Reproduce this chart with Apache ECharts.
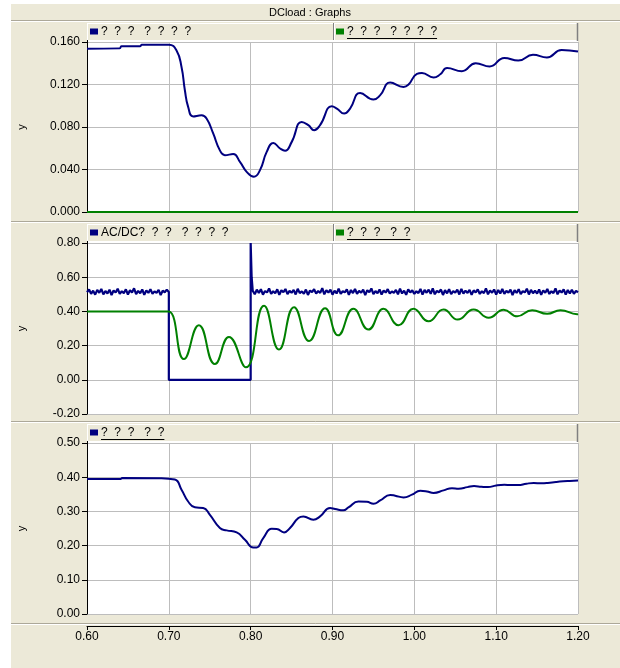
<!DOCTYPE html>
<html><head><meta charset="utf-8">
<script src="https://cdn.jsdelivr.net/npm/echarts@6/dist/echarts.min.js"></script>
<style>html,body{margin:0;padding:0;background:#fff}#c{width:620px;height:668px}</style>
</head><body><div id="c"></div>
<script>
// ---------- text ----------
const titleText = 'DCload : Graphs';
const p1Names = ['?  ?  ?   ?  ?  ?  ?', '?  ?  ?   ?  ?  ?  ?'];
const p2Names = ['AC/DC?  ?  ?   ?  ?  ?  ?', '?  ?  ?   ?  ?'];
const p3Names = ['?  ?  ?   ?  ?'];
const xTickValues = [0.6, 0.7, 0.8, 0.9, 1.0, 1.1, 1.2];

// ---------- panel 1 ----------
const p1BlueT = [0.600,0.640,0.642,0.665,0.667,0.700,0.7094,0.7155,0.7196,0.7236,0.7297,0.740,0.7461,0.7542,0.7624,0.7685,0.7787,0.7869,0.7951,0.804,0.8114,0.8196,0.8277,0.8359,0.842,0.8502,0.8624,0.8705,0.8775,0.8848,0.8991,0.9053,0.9142,0.9215,0.9338,0.950,0.9583,0.9705,0.9868,0.9929,1.0032,1.0093,1.0235,1.0317,1.040,1.058,1.075,1.092,1.110,1.127,1.145,1.162,1.180,1.200];
const p1BlueV = [0.1537,0.1540,0.1559,0.1560,0.1575,0.1575,0.152,0.1365,0.1146,0.0989,0.090,0.091,0.088,0.0739,0.058,0.0535,0.0545,0.0472,0.0378,0.0332,0.0394,0.0566,0.065,0.0598,0.0576,0.066,0.0848,0.0817,0.077,0.0817,0.0995,0.0974,0.0927,0.0974,0.112,0.1058,0.110,0.1218,0.1177,0.120,0.130,0.1308,0.1265,0.1296,0.1355,0.1325,0.140,0.137,0.145,0.1425,0.148,0.1455,0.1525,0.151];
const p1GreenT = [0.6, 1.2];
const p1GreenV = [0, 0];

// ---------- panel 2 ----------
const p2NoiseA = [0.512,0.528,0.503,0.521,0.498,0.526,0.509,0.531,0.500,0.519,0.505,0.527,0.496,0.522,0.510,0.533,0.502,0.518,0.507,0.529,0.499,0.524,0.511,0.535,0.501,0.520,0.506,0.528,0.497,0.523,0.508,0.530,0.503,0.517,0.509,0.526,0.495,0.521,0.512,0.527];
const p2SwitchT = [0.700,0.700,0.800,0.800,0.8012];
const p2SwitchV = [0.513,0.000,0.000,0.800,0.600];
const p2NoiseB = [0.521,0.500,0.527,0.508,0.530,0.498,0.519,0.511,0.534,0.502,
0.518,0.506,0.529,0.497,0.524,0.512,0.531,0.501,0.520,0.509,
0.526,0.499,0.532,0.507,0.517,0.503,0.528,0.496,0.522,0.513,
0.530,0.504,0.519,0.508,0.536,0.500,0.523,0.510,0.527,0.498,
0.521,0.505,0.533,0.502,0.518,0.511,0.529,0.497,0.525,0.507,
0.531,0.503,0.520,0.509,0.527,0.495,0.524,0.512,0.534,0.501,
0.519,0.506,0.528,0.499,0.522,0.510,0.530,0.504,0.517,0.508,
0.526,0.500,0.533,0.505,0.521,0.497,0.529,0.511,0.523,0.502,
0.518,0.507,0.531,0.498,0.525,0.509,0.527,0.503,0.535,0.500,
0.520,0.512,0.528,0.496,0.524,0.506,0.530,0.501,0.519,0.510,
0.527,0.499,0.532,0.504,0.521,0.508,0.526,0.497,0.523,0.511,
0.529,0.502,0.518,0.507,0.534,0.500,0.522,0.509,0.528,0.498,
0.525,0.505,0.531,0.503,0.520,0.510,0.527,0.496,0.524,0.508,
0.530,0.501,0.519,0.511,0.533,0.499,0.526,0.506,0.521,0.504,
0.528,0.497,0.523,0.509,0.531,0.502,0.518,0.507,0.535,0.500,
0.522,0.510,0.529,0.498,0.525,0.505,0.527,0.503,0.520,0.512];
const p2GreenT = [0.600,0.690,0.700,0.7184,0.7367,0.7563,0.7734,0.7942,0.8163,0.8346,0.853,0.8714,0.891,0.9068,0.9256,0.9439,0.9623,0.9807,0.999,1.0174,1.0357,1.0529,1.0725,1.0908,1.1092,1.1256,1.144,1.1623,1.1786,1.199,1.200];
const p2GreenV = [0.400,0.400,0.399,0.121,0.319,0.092,0.251,0.073,0.433,0.177,0.425,0.227,0.419,0.260,0.415,0.294,0.415,0.319,0.415,0.342,0.411,0.352,0.411,0.363,0.410,0.371,0.407,0.386,0.407,0.384,0.385];

// ---------- panel 3 ----------
const p3BlueT = [0.600,0.641,0.643,0.689,0.7073,0.7155,0.7236,0.7318,0.742,0.7502,0.7624,0.7706,0.7829,0.793,0.8032,0.8073,0.8154,0.8257,0.8318,0.8408,0.8481,0.8583,0.8644,0.8766,0.8848,0.8971,0.9032,0.9133,0.9195,0.9317,0.942,0.9501,0.9583,0.9705,0.9766,0.9868,0.9971,1.0072,1.0154,1.0235,1.0357,1.046,1.0541,1.065,1.073,1.082,1.090,1.100,1.110,1.118,1.127,1.137,1.146,1.155,1.163,1.173,1.182,1.190,1.200];
const p3BlueV = [0.3947,0.3947,0.3977,0.3970,0.393,0.3635,0.329,0.312,0.310,0.290,0.2515,0.2445,0.2386,0.217,0.1948,0.1948,0.222,0.249,0.2485,0.2386,0.2515,0.2807,0.2854,0.2757,0.2854,0.310,0.307,0.303,0.3117,0.329,0.328,0.3225,0.332,0.348,0.346,0.341,0.349,0.3605,0.3585,0.354,0.3615,0.368,0.3664,0.371,0.374,0.372,0.371,0.376,0.378,0.377,0.377,0.381,0.383,0.382,0.383,0.386,0.388,0.389,0.390];

// ---------- build ----------
const pairs = (t, v) => t.map((x, i) => [x, v[i]]);
const p2Blue = [];
p2NoiseA.forEach((v, i) => p2Blue.push([+(0.6 + i * 0.0025).toFixed(4), v]));
p2SwitchT.forEach((t, i) => p2Blue.push([t, p2SwitchV[i]]));
p2NoiseB.forEach((v, i) => p2Blue.push([+(0.8025 + i * 0.0025).toFixed(4), v]));

const FONT = 'Liberation Sans, Arial, sans-serif';
const BEIGE = '#ECE9D8';
const NAVY = '#000080';
const GREEN = '#008000';
const GRIDC = '#BDBDBD';

const L = 87, W = 491;
const panels = [
  {top: 42, h: 170, legTop: 23, min: 0, max: 0.16, iv: 0.04, dec: 3},
  {top: 243, h: 171, legTop: 224, min: -0.2, max: 0.8, iv: 0.2, dec: 2},
  {top: 443, h: 171, legTop: 424, min: 0, max: 0.5, iv: 0.1, dec: 2}
];

const ctx = document.createElement('canvas').getContext('2d');
ctx.font = '12px ' + FONT;
const tw = s => ctx.measureText(s).width;

const graphics = [];
graphics.push({type:'rect', shape:{x:0,y:0,width:11,height:668}, style:{fill:'#fff'}, silent:true});
graphics.push({type:'rect', shape:{x:0,y:0,width:620,height:4}, style:{fill:'#fff'}, silent:true});
graphics.push({type:'line', shape:{x1:11,y1:20.5,x2:620,y2:20.5}, style:{stroke:'#ACA899',lineWidth:1}, silent:true});
graphics.push({type:'line', shape:{x1:11,y1:21.5,x2:620,y2:21.5}, style:{stroke:'#fff',lineWidth:1}, silent:true});
graphics.push({type:'text', x:310, y:12.5, style:{text:titleText, font:'11px ' + FONT, fill:'#000', align:'center', verticalAlign:'middle'}, silent:true});
[221, 421, 623].forEach(y => {
  graphics.push({type:'line', shape:{x1:11,y1:y+0.5,x2:620,y2:y+0.5}, style:{stroke:'#ACA899',lineWidth:1}, silent:true});
  graphics.push({type:'line', shape:{x1:11,y1:y+1.5,x2:620,y2:y+1.5}, style:{stroke:'#fff',lineWidth:1}, silent:true});
});

function legendItem(x, yTop, color, text, underline) {
  graphics.push({type:'rect', shape:{x:x, y:yTop+5.5, width:8, height:6}, style:{fill:color}, silent:true});
  graphics.push({type:'text', x:x+11, y:yTop+9, style:{text:text, font:'12px ' + FONT, fill:'#000', verticalAlign:'middle'}, silent:true});
  if (underline) {
    graphics.push({type:'line', shape:{x1:x+11, y1:yTop+15.5, x2:x+11+tw(text), y2:yTop+15.5}, style:{stroke:'#000', lineWidth:1}, silent:true});
  }
}
const legends = [
  [[NAVY, p1Names[0], false], [GREEN, p1Names[1], true]],
  [[NAVY, p2Names[0], false], [GREEN, p2Names[1], true]],
  [[NAVY, p3Names[0], true]]
];
panels.forEach((p, i) => {
  const lt = p.legTop;
  const lh = p.top - lt - 2;
  graphics.push({type:'rect', shape:{x:L, y:lt+lh, width:W, height:p.top-lt-lh+1}, style:{fill:'#fff'}, silent:true});
  graphics.push({type:'line', shape:{x1:L+0.5, y1:lt+lh, x2:L+0.5, y2:p.top+1}, style:{stroke:'#000', lineWidth:1}, silent:true});
  graphics.push({type:'rect', shape:{x:L, y:lt, width:W, height:lh}, style:{fill:BEIGE}, silent:true});
  graphics.push({type:'line', shape:{x1:L, y1:lt+0.5, x2:L+W, y2:lt+0.5}, style:{stroke:'#fff', lineWidth:1}, silent:true});
  graphics.push({type:'line', shape:{x1:L+0.5, y1:lt, x2:L+0.5, y2:lt+lh}, style:{stroke:'#fff', lineWidth:1}, silent:true});
  graphics.push({type:'line', shape:{x1:L+W-0.5, y1:lt, x2:L+W-0.5, y2:lt+lh+1}, style:{stroke:'#808080', lineWidth:1.5}, silent:true});
  const items = legends[i];
  items.forEach((it, j) => {
    const x0 = j === 0 ? 90 : 336;
    legendItem(x0, lt, it[0], it[1], it[2]);
  });
  if (items.length > 1) {
    graphics.push({type:'line', shape:{x1:333.5, y1:lt, x2:333.5, y2:lt+lh}, style:{stroke:'#808080', lineWidth:1}, silent:true});
    graphics.push({type:'line', shape:{x1:334.5, y1:lt, x2:334.5, y2:lt+lh}, style:{stroke:'#fff', lineWidth:1}, silent:true});
  }
});

const grids = panels.map(p => ({left: L, top: p.top, width: W, height: p.h, show: true, backgroundColor: '#fff', borderWidth: 0}));
const xAxes = panels.map((p, i) => ({
  type: 'value', gridIndex: i, min: 0.6, max: 1.2, interval: 0.1,
  splitLine: {show: true, lineStyle: {color: GRIDC, width: 1}},
  axisLine: {show: i === 2, onZero: false, lineStyle: {color: '#000'}},
  axisTick: {show: i === 2, length: 4, lineStyle: {color: '#000'}},
  axisLabel: {show: i === 2, fontSize: 12, fontFamily: FONT, color: '#000', margin: 5,
    formatter: v => v.toFixed(2)},
  offset: i === 2 ? 12 : 0
}));
const yAxes = panels.map((p, i) => ({
  type: 'value', gridIndex: i, min: p.min, max: p.max, interval: p.iv,
  name: 'y', nameLocation: 'middle', nameGap: 60, nameRotate: 90,
  nameTextStyle: {fontSize: 11, fontFamily: FONT, color: '#000'},
  splitLine: {show: true, lineStyle: {color: GRIDC, width: 1}},
  axisLine: {show: true, lineStyle: {color: '#000'}},
  axisTick: {show: true, length: 5, lineStyle: {color: '#000'}},
  axisLabel: {fontSize: 12, fontFamily: FONT, color: '#000', margin: 7,
    formatter: v => v.toFixed(p.dec)}
}));

const lineS = (name, xi, data, color, w, smooth) => ({
  name, type: 'line', xAxisIndex: xi, yAxisIndex: xi, data, symbol: 'none',
  smooth: smooth, lineStyle: {color, width: w}, itemStyle: {color}, animation: false, z: 3
});

const series = [
  lineS('p1blue', 0, pairs(p1BlueT, p1BlueV), NAVY, 2, 0.5),
  lineS('p1green', 0, pairs(p1GreenT, p1GreenV), GREEN, 2, false),
  lineS('p2blue', 1, p2Blue, NAVY, 2.2, false),
  lineS('p2green', 1, pairs(p2GreenT, p2GreenV), GREEN, 2, 0.5),
  lineS('p3blue', 2, pairs(p3BlueT, p3BlueV), NAVY, 2, 0.5)
];

const chart = echarts.init(document.getElementById('c'), null, {renderer: 'canvas'});
chart.setOption({
  backgroundColor: BEIGE,
  animation: false,
  grid: grids, xAxis: xAxes, yAxis: yAxes, series,
  graphic: {elements: graphics}
});
</script></body></html>
